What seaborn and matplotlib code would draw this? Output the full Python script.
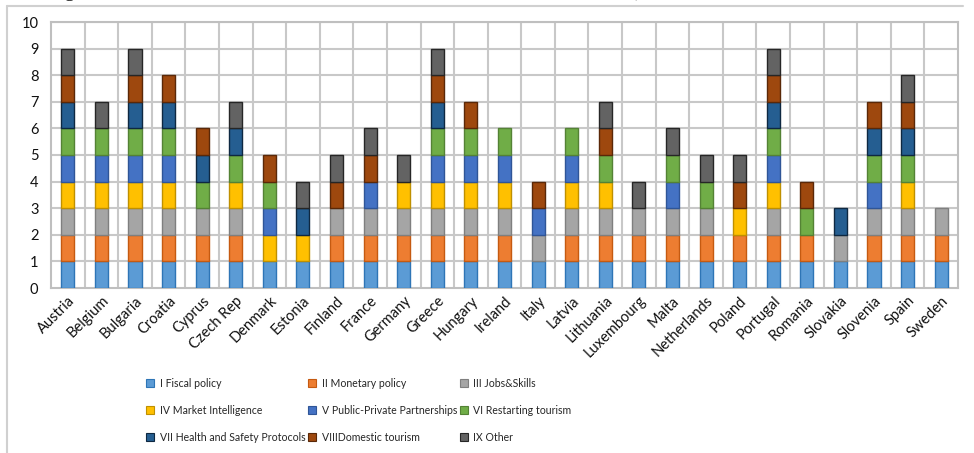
import matplotlib
matplotlib.use("Agg")
import matplotlib.pyplot as plt
from matplotlib.patches import Patch
from matplotlib.lines import Line2D
import numpy as np
import pandas as pd
import seaborn as sns

countries = ["Austria", "Belgium", "Bulgaria", "Croatia", "Cyprus", "Czech Rep",
             "Denmark", "Estonia", "Finland", "France", "Germany", "Greece",
             "Hungary", "Ireland", "Italy", "Latvia", "Lithuania", "Luxembourg",
             "Malta", "Netherlands", "Poland", "Portugal", "Romania", "Slovakia",
             "Slovenia", "Spain", "Sweden"]

measures = ["I Fiscal policy", "II Monetary policy", "III Jobs&Skills",
            "IV Market Intelligence", "V Public-Private Partnerships",
            "VI Restarting tourism", "VII Health and Safety Protocols",
            "VIIIDomestic tourism", "IX Other"]

# 1 = measure adopted by the country, 0 = not adopted (same order as countries)
fiscal        = [1,1,1,1,1,1,1,1,1,1,1,1,1,1,1,1,1,1,1,1,1,1,1,1,1,1,1]
monetary      = [1,1,1,1,1,1,0,0,1,1,1,1,1,1,0,1,1,1,1,1,1,1,1,0,1,1,1]
jobs_skills   = [1,1,1,1,1,1,0,0,1,1,1,1,1,1,1,1,1,1,1,1,0,1,0,1,1,1,1]
market_intel  = [1,1,1,1,0,1,1,1,0,0,1,1,1,1,0,1,1,0,0,0,1,1,0,0,0,1,0]
ppp           = [1,1,1,1,0,0,1,0,0,1,0,1,1,1,1,1,0,0,1,0,0,1,0,0,1,0,0]
restarting    = [1,1,1,1,1,1,1,0,0,0,0,1,1,1,0,1,1,0,1,1,0,1,1,0,1,1,0]
health_safety = [1,0,1,1,1,1,0,1,0,0,0,1,0,0,0,0,0,0,0,0,0,1,0,1,1,1,0]
domestic      = [1,0,1,1,1,0,1,0,1,1,0,1,1,0,1,0,1,0,0,0,1,1,1,0,1,1,0]
other         = [1,1,1,0,0,1,0,1,1,1,1,1,0,0,0,0,1,1,1,1,1,1,0,0,0,1,0]

series = [fiscal, monetary, jobs_skills, market_intel, ppp, restarting,
          health_safety, domestic, other]

colors = ["#5B9BD5", "#ED7D31", "#A5A5A5", "#FFC000", "#4472C4",
          "#70AD47", "#255E91", "#9E480E", "#636363"]
edges = ["#2E75B6", "#C55A11", "#7F7F7F", "#BF9000", "#2F5597",
         "#548235", "#0E2841", "#5A2808", "#262626"]

sns.set_theme(style="white")
plt.rcParams["font.family"] = ["Lato", "DejaVu Sans"]

fig = plt.figure(figsize=(9.74, 4.53), dpi=100)
ax = fig.add_axes([51 / 974, 1 - 288 / 453, (958 - 51) / 974, (288 - 22) / 453])

grid_c = "#C8C8C8"
bottom = np.zeros(len(countries))
for vals, col, ec in zip(series, colors, edges):
    vals = np.array(vals, dtype=float)
    df = pd.DataFrame({"country": countries, "value": vals, "base": bottom})
    sub = df[df["value"] > 0]
    sns.barplot(data=sub, x="country", y="value", order=countries,
                bottom=sub["base"].to_numpy(), color=col, width=0.39,
                edgecolor=ec, linewidth=1.0, saturation=1, ax=ax, zorder=3)
    bottom = bottom + vals

n = len(countries)
ax.set_xlim(-0.5, n - 0.5)
ax.set_ylim(0, 10)
ax.set_yticks(range(0, 11))
ax.set_xlabel("")
ax.set_ylabel("")
for y in range(1, 11):
    ax.axhline(y, color=grid_c, lw=1.5, zorder=0)
for k in range(1, n):
    ax.axvline(k - 0.5, color=grid_c, lw=1.5, zorder=0)
for s in ax.spines.values():
    s.set_color("#BFBFBF")
    s.set_linewidth(1.5)
ax.tick_params(axis="both", length=0, labelsize=10.5, colors="#111111")
ax.tick_params(axis="y", pad=9)
ax.set_xticks(range(n))
ax.set_xticklabels(countries, rotation=45, ha="right", rotation_mode="anchor")
ax.tick_params(axis="x", pad=4)

# legend laid out row-wise across three columns
order = [0, 3, 6, 1, 4, 7, 2, 5, 8]
handles = [Patch(facecolor=colors[i], edgecolor=edges[i], linewidth=0.8,
                 label=measures[i]) for i in order]
fig.legend(handles=handles, ncol=3, loc="upper left",
           bbox_to_anchor=(146 / 974, 1 - 378 / 453), frameon=False,
           fontsize=7.6, handlelength=0.8, handleheight=0.8,
           handletextpad=0.5, columnspacing=0.25, labelspacing=1.5,
           borderaxespad=0, borderpad=0)

# caption running off the top edge and the frame around the chart
fig.text(50 / 974, 1 + 3 / 453,
         "Figure 4. The measures used to combat COVID-19 in tourism in EU countries (number of",
         fontsize=12.5, fontweight="bold", family="Liberation Serif",
         va="baseline", ha="left")
fig.add_artist(Line2D([7 / 974, 963 / 974], [1 - 6 / 453, 1 - 6 / 453],
                      transform=fig.transFigure, color="#D0D0D0", lw=1.5))
fig.add_artist(Line2D([7 / 974, 7 / 974], [1 - 6 / 453, 0],
                      transform=fig.transFigure, color="#D0D0D0", lw=1.5))

fig.savefig("out.png", dpi=100)
